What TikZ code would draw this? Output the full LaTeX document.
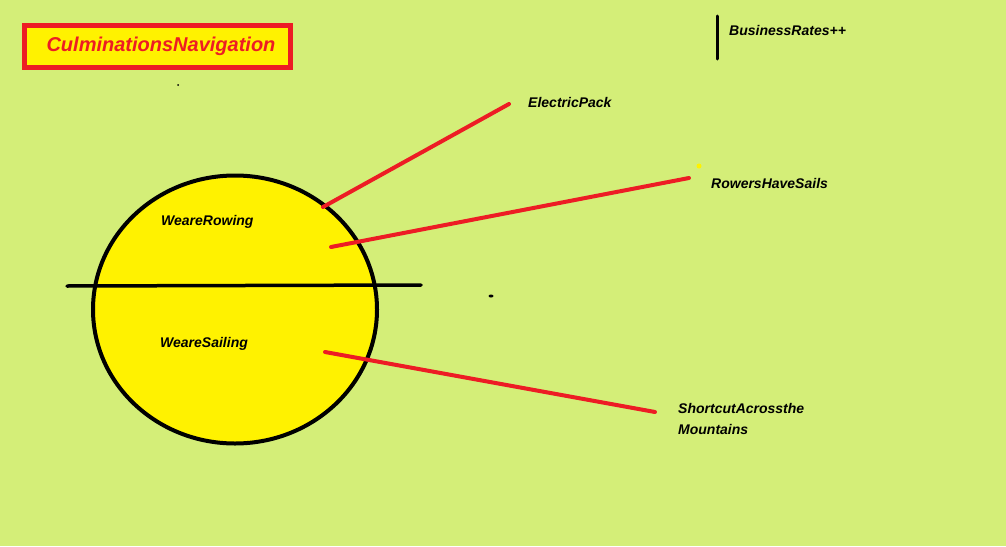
\documentclass[tikz,border=0pt]{standalone}
\usepackage{fontspec}
\setmainfont{Liberation Sans}
\usetikzlibrary{shapes.geometric}
\definecolor{bg}{RGB}{212,238,120}
\definecolor{yel}{RGB}{255,242,0}
\definecolor{red1}{RGB}{237,28,36}
\begin{document}
\begin{tikzpicture}[x=1pt,y=-1pt,
  lbl/.style={anchor=west,inner sep=0pt,font=\fontsize{14}{16}\selectfont\bfseries\itshape},
  redline/.style={draw=red1,line width=4pt,line cap=round},
  blackline/.style={draw=black,line width=3.5pt,line cap=round}]
\fill[bg] (0,0) rectangle (1006,546);
\useasboundingbox (0,0) rectangle (1006,546);
% title
\node[draw=red1,line width=4.5pt,fill=yel,minimum width=266pt,minimum height=42pt,inner sep=0pt] (title) at (157.5,46.5) {};
\node[inner sep=0pt,font=\fontsize{20}{22}\selectfont\bfseries\itshape,text=red1] (titletext) at (161,46) {CulminationsNavigation};
% business rates
\coordinate (bt) at (717,16);
\coordinate (bb) at (717,59);
\draw[draw=black,line width=3pt,line cap=round] (bt) -- (bb);
\node[lbl] (br) at (729,30) {BusinessRates++};
% circle
\node[draw=black,line width=4pt,fill=yel,ellipse,minimum width=284pt,minimum height=268pt,inner sep=0pt] (circ) at (235,309.5) {};
\coordinate (hl) at (67,286);
\coordinate (hr) at (421,285);
\draw[blackline] (hl) -- (hr);
\node[lbl] (row) at (161,222) {WeareRowing};
\node[lbl] (sail) at (160,344) {WeareSailing};
% labels
\node[lbl] (ep) at (528,102) {ElectricPack};
\node[lbl] (rs) at (711,183) {RowersHaveSails};
\node[lbl,align=left] (sc) at (678,419) {ShortcutAcrossthe\\[5pt]Mountains};
% red lines
\coordinate (a1) at (323,207);
\coordinate (a2) at (509,104);
\coordinate (b1) at (331,247);
\coordinate (b2) at (689,178);
\coordinate (c1) at (325,352);
\coordinate (c2) at (655,412);
\draw[redline] (a1) -- (a2);
\draw[redline] (b1) -- (b2);
\draw[redline] (c1) -- (c2);
% stray marks
\fill[black] (178,85) circle (1pt);
\fill[yel] (699,166) circle (2.5pt);
\fill[black] (491,296) ellipse (2.5pt and 1.5pt);
\end{tikzpicture}
\end{document}
